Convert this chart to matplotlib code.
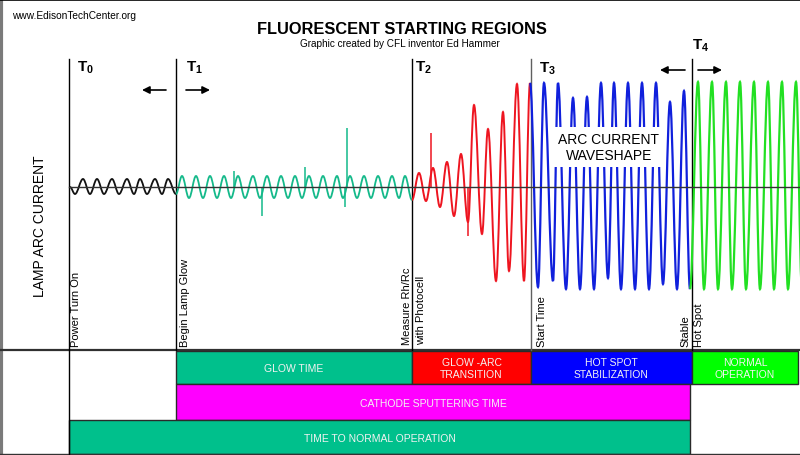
import matplotlib
matplotlib.use("Agg")
import matplotlib.pyplot as plt
from matplotlib.path import Path
from matplotlib.patches import PathPatch

plt.rcParams['font.family'] = ['Liberation Sans', 'DejaVu Sans']
plt.rcParams['mathtext.fontset'] = 'custom'
plt.rcParams['mathtext.bf'] = 'Liberation Sans:bold'
plt.rcParams['mathtext.rm'] = 'Liberation Sans'

# ---------------- data ----------------
phase_names = [r'$\mathbf{T_0}$', r'$\mathbf{T_1}$', r'$\mathbf{T_2}$', r'$\mathbf{T_3}$', r'$\mathbf{T_4}$']
phase_times = [0, 107, 343, 462, 623]
event_labels = ['Power Turn On', 'Begin Lamp Glow', 'Measure Rh/Rc\nwith Photocell', 'Start Time', 'Stable\nHot Spot']

# waveform extrema: time (arbitrary units from T0) and current amplitude
black_t = [1, 6, 14, 21, 28, 35, 43, 50, 58, 65, 71, 78, 86, 93, 99, 107]
black_a = [0, -7, 8, -7, 8, -7, 8, -7, 8, -7, 8, -7, 8, -7, 8, -7]

teal_t = [107, 113, 120, 127, 134, 141, 148, 155, 162, 169, 176, 184, 191, 198, 205, 212, 219, 226,
          233, 240, 247, 254, 261, 268, 274, 281, 288, 295, 302, 309, 316, 323, 330, 336, 343]
teal_a = [-7, 11, -11, 11, -11, 11, -11, 11, -11, 11, -11, 11, -11, 11, -11, 11, -11, 11,
          -11, 11, -11, 11, -11, 11, -11, 11, -11, 11, -11, 11, -11, 11, -11, 11, -13]
teal_spike_t = [165, 236, 278, 193, 276]
teal_spike_a = [16, 20, 59, -29, -20]

red_t = [343, 350, 357, 364, 371, 378, 385, 392, 399, 405, 413, 419, 427, 434, 440, 448, 455, 461]
red_a = [-13, 14, -14, 19, -20, 25, -29, 33, -35, 82, -47, 58, -94, 75, -84, 103, -94, 104]
red_spike_t = [362, 399]
red_spike_a = [54, -49]

blue_t = [461, 469, 475, 484, 489, 497, 504, 511, 518, 525, 532, 539, 545, 552, 559, 566, 573, 580,
          587, 594, 601, 608, 615, 621]
blue_a = [104, -100, 104, -94, 104, -102, 89, -102, 90, -102, 104, -91, 104, -102, 104, -102, 104, -102,
          104, -97, 85, -102, 96, -102]

green_t = [621, 629, 635, 643, 649, 657, 663, 671, 677, 685, 691, 699, 705, 713, 719, 727, 733]
green_a = [-102, 105, -102, 105, -102, 105, -102, 105, -102, 105, -102, 105, -102, 105, -102, 105, -102]

# timing bars
bar_labels = ['GLOW TIME', 'GLOW -ARC\nTRANSITION', 'HOT SPOT\nSTABILIZATION', 'NORMAL\nOPERATION',
              'CATHODE SPUTTERING TIME', 'TIME TO NORMAL OPERATION']
bar_start = [107, 343, 462, 623, 107, 0]
bar_end = [343, 462, 623, 729, 621, 621]
bar_row = [0, 0, 0, 0, 1, 2]
bar_colors = ['#00c08c', '#ff0000', '#0000ff', '#00ff00', '#ff00ff', '#00c08c']

# ---------------- figure ----------------
fig = plt.figure(figsize=(8, 4.56), dpi=100)
ax = fig.add_axes([0, 0, 1, 1])
ax.set_xlim(-69, 731)
ax.set_ylim(456, 0)
ax.axis('off')

# waveform axes (same horizontal scale)
axw = fig.add_axes([0, (456 - 350) / 456, 1, 290 / 456])
axw.set_xlim(-69, 731)
axw.set_ylim(-162, 128)
axw.axis('off')
axw.patch.set_alpha(0)

# borders
ax.plot([-68, -68], [0, 456], color='#7a7a7a', lw=3, clip_on=False)
ax.plot([-69, 731], [1, 1], color='black', lw=1.2, clip_on=False)
ax.plot([-69, 731], [455.5, 455.5], color='#333333', lw=1, clip_on=False)

# titles
ax.text(-57, 16, 'www.EdisonTechCenter.org', fontsize=7.3, ha='left', va='center')
ax.text(333, 30, 'FLUORESCENT STARTING REGIONS', fontsize=11.8, fontweight='bold', ha='center', va='center')
ax.text(331, 44, 'Graphic created by CFL inventor Ed Hammer', fontsize=7.2, ha='center', va='center')

# y-axis label
ax.text(-29, 226, 'LAMP ARC CURRENT', fontsize=10, rotation=90, ha='center', va='center')

# phase lines
line_colors = ['black', 'black', 'black', '#606060', 'black']
for t, c in zip(phase_times, line_colors):
    ax.plot([t, t], [60, 351], color=c, lw=1, zorder=4)
ax.plot([0, 0], [351, 456], color='black', lw=1)

# phase names
name_pos = [(8, 60), (117, 60), (346, 60), (470, 61), (623, 38)]
for nm, (x, y) in zip(phase_names, name_pos):
    ax.text(x, y, nm, fontsize=11, ha='left', va='top')

# arrows
arrow_specs = [((97, 91), (73, 91)), ((117, 91), (141, 91)), ((616, 71), (591, 71)), ((629, 71), (653, 71))]
for tail, head in arrow_specs:
    ax.annotate('', xy=head, xytext=tail,
                arrowprops=dict(arrowstyle='-|>', color='black', lw=1.2, mutation_scale=11,
                                shrinkA=0, shrinkB=0))

# event labels (rotated)
event_x = [2, 111, 333, 468, 611]
event_y = [347, 347, 345, 347, 347]
for lab, x, y in zip(event_labels, event_x, event_y):
    ax.text(x, y, lab, fontsize=8, rotation=90, ha='left', va='bottom', multialignment='left',
            linespacing=1.45)

# separator
ax.plot([-69, 731], [351, 351], color='#303030', lw=1.6)

# bars
row_top = [352, 385.5, 421]
row_h = [33, 35.5, 34]
for lab, s, e, r, c in zip(bar_labels, bar_start, bar_end, bar_row, bar_colors):
    ax.barh(row_top[r] + row_h[r] / 2, e - s, left=s, height=row_h[r], color=c,
            edgecolor='#2a2a2a', linewidth=1)
    ax.text((s + e) / 2, row_top[r] + row_h[r] / 2 + 1, lab, fontsize=7.5, color='#f2f2f2',
            ha='center', va='center', linespacing=1.25)


# waveforms
def wave_path(t, a):
    verts = [(t[0], a[0])]
    codes = [Path.MOVETO]
    for i in range(1, len(t)):
        dt = t[i] - t[i - 1]
        verts += [(t[i - 1] + 0.37 * dt, a[i - 1]), (t[i] - 0.37 * dt, a[i]), (t[i], a[i])]
        codes += [Path.CURVE4] * 3
    return Path(verts, codes)


waves = [(black_t, black_a, '#111111', 1.3),
         (teal_t, teal_a, '#14b98a', 1.3),
         (red_t, red_a, '#ee1520', 1.4),
         (blue_t, blue_a, '#1020dc', 1.6),
         (green_t, green_a, '#22e022', 1.6)]
for t, a, c, lw in waves:
    axw.add_patch(PathPatch(wave_path(t, a), facecolor='none', edgecolor=c, lw=lw, zorder=2))

axw.vlines(teal_spike_t, 0, teal_spike_a, color='#14b98a', lw=1.1, zorder=2)
axw.vlines(red_spike_t, 0, red_spike_a, color='#ee1520', lw=1.1, zorder=2)

axw.plot([0, 731], [0, 0], color='#333333', lw=1, zorder=3)

axw.text(540, 40, 'ARC CURRENT\nWAVESHAPE', fontsize=10, ha='center', va='center', zorder=6,
         linespacing=1.2,
         bbox=dict(boxstyle='square,pad=0.35', facecolor='white', edgecolor='none'))

fig.savefig('out.png', dpi=100)
